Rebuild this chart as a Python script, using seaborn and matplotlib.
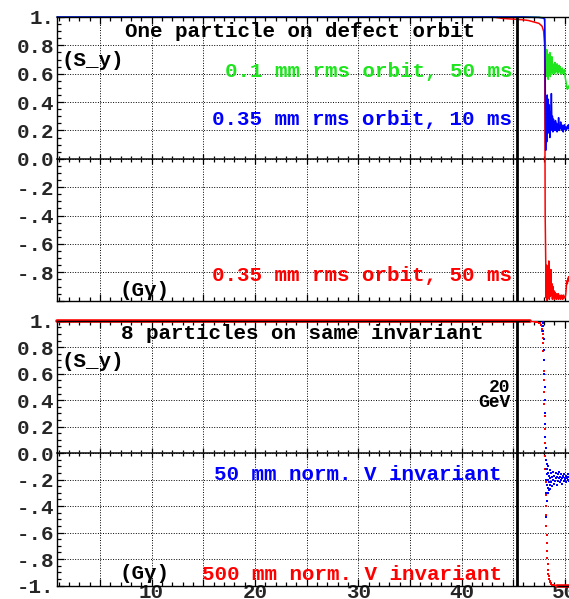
import matplotlib
matplotlib.use("Agg")
import matplotlib.pyplot as plt
import numpy as np
import pandas as pd
import seaborn as sns
from matplotlib.ticker import MultipleLocator, NullFormatter

# ---------------------------------------------------------------- data
GEV20 = 45.39  # G*gamma at 20 GeV

# upper panel: one particle, slow part of the ramp
pre_x_green = [0.84, 46.0, 47.5, 47.9, 48.05, 48.10]
pre_y_green = [1.0, 1.0, 0.998, 0.995, 0.99, 0.85]
pre_x_blue = [0.84, 46.0, 47.5, 47.9, 48.05, 48.10]
pre_y_blue = [1.0, 1.0, 0.997, 0.993, 0.985, 0.60]
pre_x_red = [0.84, 43.0, 43.5, 44.0, 45.0, 46.0, 46.5, 47.0, 47.5, 47.8, 47.95, 48.05, 48.10]
pre_y_red = [1.0, 1.0, 0.995, 0.99, 0.985, 0.98, 0.975, 0.965, 0.955, 0.935, 0.90, 0.80, -0.40]

# upper panel: after the resonance crossing
tail_x = [48.15, 48.20, 48.25, 48.30, 48.35, 48.40, 48.45, 48.50, 48.55, 48.60,
          48.65, 48.70, 48.75, 48.80, 48.85, 48.90, 48.95, 49.00, 49.05, 49.10,
          49.15, 49.20, 49.25, 49.30, 49.35, 49.40, 49.45, 49.50, 49.55, 49.60,
          49.65, 49.70, 49.75, 49.80, 49.85, 49.90, 49.95, 50.00, 50.05, 50.10,
          50.15, 50.20, 50.25, 50.30, 50.35, 50.40, 50.45, 50.50, 50.55, 50.60]
tail_green = [0.72, 0.58, 0.77, 0.60, 0.74, 0.56, 0.70, 0.62, 0.75, 0.58,
              0.69, 0.61, 0.72, 0.60, 0.67, 0.62, 0.66, 0.60, 0.68, 0.61,
              0.65, 0.62, 0.67, 0.60, 0.64, 0.61, 0.66, 0.62, 0.65, 0.60,
              0.63, 0.61, 0.64, 0.60, 0.62, 0.61, 0.63, 0.60, 0.57, 0.55,
              0.53, 0.50, 0.49, 0.50, 0.51, 0.50, 0.52, 0.51, 0.53, 0.52]
tail_blue = [0.06, 0.35, 0.12, 0.45, 0.18, 0.42, 0.22, 0.38, 0.15, 0.33,
             0.20, 0.46, 0.24, 0.30, 0.19, 0.28, 0.22, 0.26, 0.20, 0.27,
             0.21, 0.25, 0.19, 0.24, 0.22, 0.29, 0.20, 0.23, 0.21, 0.26,
             0.22, 0.24, 0.20, 0.23, 0.19, 0.22, 0.24, 0.21, 0.23, 0.20,
             0.22, 0.21, 0.23, 0.22, 0.24, 0.21, 0.23, 0.22, 0.21, 0.22]
tail_red = [-0.70, -0.98, -0.75, -1.00, -0.80, -0.95, -0.72, -0.99, -0.85, -0.97,
            -0.78, -0.96, -0.88, -0.99, -0.90, -0.97, -0.93, -0.99, -0.94, -0.97,
            -0.95, -0.99, -0.96, -0.98, -0.95, -0.99, -0.96, -0.98, -0.97, -0.99,
            -0.96, -0.98, -0.97, -0.99, -0.96, -0.98, -0.97, -0.98, -0.97, -0.95,
            -0.90, -0.86, -0.88, -0.84, -0.86, -0.83, -0.85, -0.84, -0.85, -0.84]

# lower panel: 8 particles on the same invariant
flat_top_x = [0.84, 46.6]
flat_top_y = [1.0, 1.0]
flat_bot_x = [49.2, 50.6]
flat_bot_y = [-1.0, -1.0]
red_pts_x = [46.7, 46.9, 47.1, 47.3, 47.5, 47.6, 47.7, 47.75, 47.8, 47.83,
             47.86, 47.88, 47.9, 47.92, 47.94, 47.96, 47.98, 48.0, 48.02, 48.04,
             48.06, 48.08, 48.1, 48.12, 48.14, 48.16, 48.18, 48.2, 48.22, 48.24,
             48.26, 48.28, 48.3, 48.33, 48.36, 48.4, 48.45, 48.5, 48.55, 48.6,
             48.65, 48.7, 48.8, 48.9, 49.0, 49.1]
red_pts_y = [0.998, 0.996, 0.993, 0.99, 0.985, 0.98, 0.97, 0.96, 0.94, 0.92,
             0.90, 0.87, 0.83, 0.77, 0.70, 0.62, 0.55, 0.46, 0.37, 0.28,
             0.18, 0.08, -0.02, -0.12, -0.22, -0.32, -0.40, -0.47, -0.55, -0.62,
             -0.68, -0.74, -0.79, -0.84, -0.88, -0.91, -0.93, -0.95, -0.965, -0.975,
             -0.983, -0.988, -0.993, -0.996, -0.998, -1.0]
blue_pts_x = [47.85, 47.88, 47.9, 47.93, 47.95, 47.98, 48.0, 48.02, 48.04, 48.06,
              48.08, 48.1, 48.12, 48.14, 48.16, 48.18, 48.2, 48.2, 48.22, 48.25,
              48.25, 48.28, 48.3, 48.32, 48.35, 48.35, 48.38, 48.4, 48.42, 48.45,
              48.48, 48.5, 48.52, 48.55, 48.58, 48.6, 48.65, 48.7, 48.75, 48.8,
              48.85, 48.9, 48.95, 49.0, 49.05, 49.1, 49.15, 49.2, 49.25, 49.3,
              49.35, 49.4, 49.45, 49.5, 49.55, 49.6, 49.65, 49.7, 49.75, 49.8,
              49.85, 49.9, 49.95, 50.0, 50.05, 50.1, 50.15, 50.2, 50.25, 50.3,
              50.35, 50.4, 50.45, 50.5, 50.55]
blue_pts_y = [0.99, 0.98, 0.96, 0.92, 0.86, 0.78, 0.70, 0.60, 0.50, 0.40,
              0.30, 0.22, 0.12, 0.04, -0.05, -0.12, -0.48, -0.20, -0.30, -0.08,
              -0.36, -0.16, -0.24, -0.12, -0.30, -0.20, -0.15, -0.26, -0.10, -0.22,
              -0.28, -0.17, -0.13, -0.24, -0.19, -0.27, -0.15, -0.22, -0.18, -0.25,
              -0.14, -0.20, -0.23, -0.17, -0.21, -0.15, -0.19, -0.24, -0.18, -0.16,
              -0.21, -0.19, -0.14, -0.22, -0.18, -0.20, -0.16, -0.19, -0.23, -0.17,
              -0.18, -0.21, -0.16, -0.19, -0.20, -0.17, -0.22, -0.18, -0.19, -0.16,
              -0.20, -0.18, -0.21, -0.17, -0.19]

ytick_vals = [1.0, 0.8, 0.6, 0.4, 0.2, 0.0, -0.2, -0.4, -0.6, -0.8, -1.0]
ytick_text = ["1.", "0.8", "0.6", "0.4", "0.2", "0.0", "-.2", "-.4", "-.6", "-.8", "-1."]
xtick_vals = [5, 10, 15, 20, 25, 30, 35, 40, 45, 50]
xtick_text = ["", "10", "", "20", "", "30", "", "40", "", "50"]

GREEN = "#1ee51e"
BLUE = "#0000ff"
RED = "#ff0000"

# ---------------------------------------------------------------- style
sns.set_theme(style="ticks")
plt.rcParams["font.family"] = ["Liberation Mono", "DejaVu Sans Mono"]
plt.rcParams["font.weight"] = "bold"

fig = plt.figure(figsize=(5.69, 5.99), dpi=100)
W = 569.0
H = 599.0
left = 57 / W
width = (571 - 57) / W
ax_top = fig.add_axes([left, (H - 300.7) / H, width, 283.7 / H])
ax_bot = fig.add_axes([left, (H - 585.5) / H, width, 264.8 / H])

FS = 15
TICK_FS = 15


def style_axes(ax, show_xlabels, zero_color, hide_minus_one):
    ax.set_xlim(0.84, 50.6)
    ax.set_ylim(-1.0, 1.0)
    labels = list(ytick_text)
    if hide_minus_one:
        labels[-1] = ""
    ax.set_yticks(ytick_vals, labels)
    ax.set_xticks(xtick_vals, xtick_text if show_xlabels else [""] * len(xtick_vals))
    ax.xaxis.set_minor_locator(MultipleLocator(1))
    ax.yaxis.set_minor_locator(MultipleLocator(0.05))
    ax.grid(True, which="major", color="black", linestyle=(0, (1, 1.6)), linewidth=0.7)
    ax.tick_params(which="both", direction="in", top=True, right=False,
                   labelsize=TICK_FS, pad=2, color="black", width=0.9)
    ax.tick_params(which="major", length=5)
    ax.tick_params(which="minor", length=3)
    ax.tick_params(axis="x", pad=-1.5)
    for lab in ax.get_xticklabels() + ax.get_yticklabels():
        lab.set_fontweight("bold")
    for side in ["left", "bottom", "top"]:
        ax.spines[side].set_color("black")
        ax.spines[side].set_linewidth(1.0)
    ax.spines["right"].set_visible(False)
    ax.set_xlabel("")
    ax.set_ylabel("")
    # axis line through zero with crossing ticks
    zero = ax.secondary_xaxis(0.5)
    zero.xaxis.set_major_locator(MultipleLocator(5))
    zero.xaxis.set_minor_locator(MultipleLocator(1))
    zero.xaxis.set_major_formatter(NullFormatter())
    zero.xaxis.set_minor_formatter(NullFormatter())
    zero.tick_params(which="both", direction="inout", labelbottom=False,
                     labeltop=False, color="black", width=0.9)
    zero.tick_params(which="major", length=7)
    zero.tick_params(which="minor", length=5)
    zero.spines["bottom"].set_color(zero_color)
    zero.spines["bottom"].set_linewidth(1.3 if zero_color == "black" else 1.8)
    ax.axvline(GEV20, color="black", linewidth=2.0, zorder=4)


# ---------------------------------------------------------------- upper panel
def series(xs, ys):
    return pd.DataFrame({"G_gamma": xs, "S_y": ys})


red_top = series(pre_x_red + tail_x, pre_y_red + tail_red)
green_top = series(pre_x_green + tail_x, pre_y_green + tail_green)
blue_top = series(pre_x_blue + tail_x, pre_y_blue + tail_blue)

for df, col in [(red_top, RED), (green_top, GREEN), (blue_top, BLUE)]:
    sns.lineplot(data=df, x="G_gamma", y="S_y", ax=ax_top, color=col,
                 linewidth=1.1, estimator=None, sort=False)
for ln in ax_top.lines:
    ln.set_clip_on(False)
style_axes(ax_top, False, "black", True)

ax_top.text(24.4, 0.895, "One particle on defect orbit", ha="center", va="center",
            fontsize=FS, fontweight="bold", color="black", zorder=6)
ax_top.text(1.3, 0.69, "(S_y)", ha="left", va="center", fontsize=FS,
            fontweight="bold", color="black", zorder=6)
ax_top.text(44.9, 0.615, "0.1 mm rms orbit, 50 ms", ha="right", va="center",
            fontsize=FS, fontweight="bold", color=GREEN, zorder=6)
ax_top.text(44.9, 0.28, "0.35 mm rms orbit, 10 ms", ha="right", va="center",
            fontsize=FS, fontweight="bold", color=BLUE, zorder=6)
ax_top.text(44.9, -0.82, "0.35 mm rms orbit, 50 ms", ha="right", va="center",
            fontsize=FS, fontweight="bold", color=RED, zorder=6)
ax_top.text(9.3, -0.925, "(G\u03b3)", ha="center", va="center", fontsize=FS,
            fontweight="bold", color="black", zorder=6)

# ---------------------------------------------------------------- lower panel
sns.lineplot(data=series(flat_top_x, flat_top_y), x="G_gamma", y="S_y", ax=ax_bot,
             color=RED, linewidth=2.6, estimator=None, sort=False)
sns.lineplot(data=series(flat_bot_x, flat_bot_y), x="G_gamma", y="S_y", ax=ax_bot,
             color=RED, linewidth=2.6, estimator=None, sort=False)
for ln in ax_bot.lines:
    ln.set_clip_on(False)
sns.scatterplot(data=series(red_pts_x, red_pts_y), x="G_gamma", y="S_y", ax=ax_bot,
                color=RED, marker="s", s=4, linewidth=0, zorder=3)
sns.scatterplot(data=series(blue_pts_x, blue_pts_y), x="G_gamma", y="S_y", ax=ax_bot,
                color=BLUE, marker="s", s=4, linewidth=0, zorder=3)
style_axes(ax_bot, True, BLUE, False)

ax_bot.text(24.6, 0.90, "8 particles on same invariant", ha="center", va="center",
            fontsize=FS, fontweight="bold", color="black", zorder=6)
ax_bot.text(1.3, 0.69, "(S_y)", ha="left", va="center", fontsize=FS,
            fontweight="bold", color="black", zorder=6)
ax_bot.text(44.7, 0.44, "20\nGeV", ha="right", va="center", fontsize=13,
            fontweight="bold", color="black", linespacing=0.85, zorder=6,
            multialignment="right")
ax_bot.text(43.9, -0.165, "50 mm norm. V invariant", ha="right", va="center",
            fontsize=FS, fontweight="bold", color=BLUE, zorder=6)
ax_bot.text(43.9, -0.92, "500 mm norm. V invariant", ha="right", va="center",
            fontsize=FS, fontweight="bold", color=RED, zorder=6)
ax_bot.text(9.3, -0.91, "(G\u03b3)", ha="center", va="center", fontsize=FS,
            fontweight="bold", color="black", zorder=6)

fig.savefig("out.png", dpi=100)
